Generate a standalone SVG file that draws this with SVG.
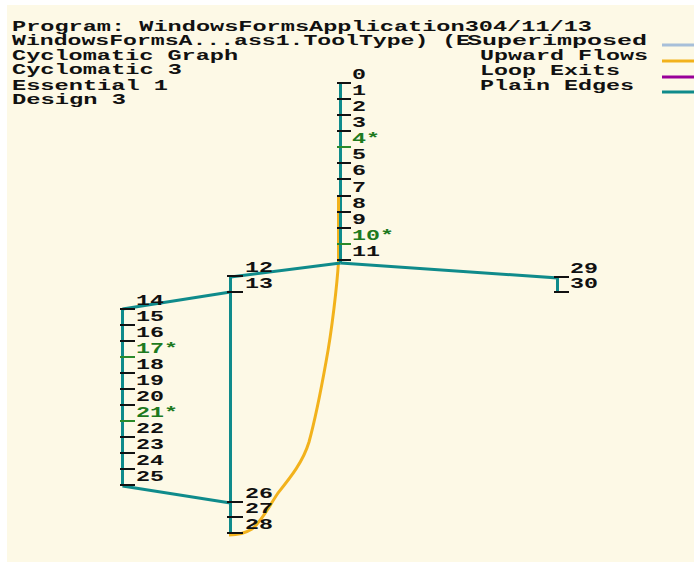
<svg xmlns="http://www.w3.org/2000/svg" width="694" height="562" viewBox="0 0 694 562">
<style>
text{font-family:"Liberation Mono","DejaVu Sans Mono",monospace;font-weight:bold;font-size:14px;fill:#111}
.g{fill:#1e7a1e}
.tk{stroke:#111;stroke-width:2}
.tg{stroke:#2a8a2a;stroke-width:2}
.e{stroke:#0f8b8b;stroke-width:3;fill:none}
.up{stroke:#f2b21c;stroke-width:3;fill:none;stroke-linejoin:round}
</style>
<rect width="694" height="562" fill="#ffffff"/>
<rect x="7" y="5" width="687" height="557" fill="#fdf9e6"/>
<g id="header">
<text x="12" y="31" textLength="580" lengthAdjust="spacingAndGlyphs">Program: WindowsFormsApplication304/11/13</text>
<text x="12" y="45" textLength="458" lengthAdjust="spacingAndGlyphs">WindowsFormsA...ass1.ToolType) (E</text>
<text x="12" y="60" textLength="226" lengthAdjust="spacingAndGlyphs">Cyclomatic Graph</text>
<text x="12" y="74" textLength="170" lengthAdjust="spacingAndGlyphs">Cyclomatic 3</text>
<text x="12" y="90" textLength="156" lengthAdjust="spacingAndGlyphs">Essential 1</text>
<text x="12" y="104" textLength="114" lengthAdjust="spacingAndGlyphs">Design 3</text>
</g>
<g id="legend">
<text x="467" y="45" textLength="180" lengthAdjust="spacingAndGlyphs">Superimposed</text>
<text x="480" y="60" textLength="168" lengthAdjust="spacingAndGlyphs">Upward Flows</text>
<text x="480" y="75" textLength="140" lengthAdjust="spacingAndGlyphs">Loop Exits</text>
<text x="480" y="90" textLength="154" lengthAdjust="spacingAndGlyphs">Plain Edges</text>
<line x1="662" y1="45" x2="694" y2="45" stroke="#a7bfd9" stroke-width="3"/>
<line x1="662" y1="61" x2="694" y2="61" stroke="#f2b21c" stroke-width="3"/>
<line x1="662" y1="77" x2="694" y2="77" stroke="#990099" stroke-width="3"/>
<line x1="662" y1="92" x2="694" y2="92" stroke="#0f8b8b" stroke-width="3"/>
</g>
<g id="connectors">
<path class="e" d="M340.5 84V263"/>
<path class="up" d="M338.5 197V262C337 285 332 330 326 362C321 390 315 420 309 442C303 462 290 478 278 493C268 508 262 521 252 529C244 534 236 535 229 535"/>
<path class="e" d="M340.5 213V263"/>
<path class="e" d="M340.5 263L230.5 277"/>
<path class="e" d="M230.5 277V533"/>
<path class="e" d="M230.5 292L122.5 309"/>
<path class="e" d="M122.5 309V486"/>
<path class="e" d="M122.5 486L230.5 503"/>
<path class="e" d="M340.5 263L557.5 278V292"/>
</g>
<g id="n0"><line class="tk" x1="337" y1="83" x2="351" y2="83"/><text x="352" y="79" textLength="14" lengthAdjust="spacingAndGlyphs">0</text></g>
<g id="n1"><line class="tk" x1="337" y1="99" x2="351" y2="99"/><text x="352" y="95" textLength="14" lengthAdjust="spacingAndGlyphs">1</text></g>
<g id="n2"><line class="tk" x1="337" y1="115" x2="351" y2="115"/><text x="352" y="111" textLength="14" lengthAdjust="spacingAndGlyphs">2</text></g>
<g id="n3"><line class="tk" x1="337" y1="131" x2="351" y2="131"/><text x="352" y="127" textLength="14" lengthAdjust="spacingAndGlyphs">3</text></g>
<g id="n4"><line class="tg" x1="337" y1="147" x2="351" y2="147"/><text class="g" x="352" y="143" textLength="28" lengthAdjust="spacingAndGlyphs">4*</text></g>
<g id="n5"><line class="tk" x1="337" y1="163" x2="351" y2="163"/><text x="352" y="159" textLength="14" lengthAdjust="spacingAndGlyphs">5</text></g>
<g id="n6"><line class="tk" x1="337" y1="179" x2="351" y2="179"/><text x="352" y="175" textLength="14" lengthAdjust="spacingAndGlyphs">6</text></g>
<g id="n7"><line class="tk" x1="337" y1="196" x2="351" y2="196"/><text x="352" y="192" textLength="14" lengthAdjust="spacingAndGlyphs">7</text></g>
<g id="n8"><line class="tk" x1="337" y1="212" x2="351" y2="212"/><text x="352" y="208" textLength="14" lengthAdjust="spacingAndGlyphs">8</text></g>
<g id="n9"><line class="tk" x1="337" y1="228" x2="351" y2="228"/><text x="352" y="224" textLength="14" lengthAdjust="spacingAndGlyphs">9</text></g>
<g id="n10"><line class="tg" x1="337" y1="244" x2="351" y2="244"/><text class="g" x="352" y="240" textLength="42" lengthAdjust="spacingAndGlyphs">10*</text></g>
<g id="n11"><line class="tk" x1="337" y1="260" x2="351" y2="260"/><text x="352" y="256" textLength="28" lengthAdjust="spacingAndGlyphs">11</text></g>
<g id="n12"><line class="tk" x1="227" y1="276" x2="243" y2="276"/><text x="245" y="272" textLength="28" lengthAdjust="spacingAndGlyphs">12</text></g>
<g id="n13"><line class="tk" x1="227" y1="292" x2="243" y2="292"/><text x="245" y="288" textLength="28" lengthAdjust="spacingAndGlyphs">13</text></g>
<g id="n14"><line class="tk" x1="120" y1="309" x2="135" y2="309"/><text x="136" y="305" textLength="28" lengthAdjust="spacingAndGlyphs">14</text></g>
<g id="n15"><line class="tk" x1="120" y1="325" x2="135" y2="325"/><text x="136" y="321" textLength="28" lengthAdjust="spacingAndGlyphs">15</text></g>
<g id="n16"><line class="tk" x1="120" y1="341" x2="135" y2="341"/><text x="136" y="337" textLength="28" lengthAdjust="spacingAndGlyphs">16</text></g>
<g id="n17"><line class="tg" x1="120" y1="357" x2="135" y2="357"/><text class="g" x="136" y="353" textLength="42" lengthAdjust="spacingAndGlyphs">17*</text></g>
<g id="n18"><line class="tk" x1="120" y1="373" x2="135" y2="373"/><text x="136" y="369" textLength="28" lengthAdjust="spacingAndGlyphs">18</text></g>
<g id="n19"><line class="tk" x1="120" y1="389" x2="135" y2="389"/><text x="136" y="385" textLength="28" lengthAdjust="spacingAndGlyphs">19</text></g>
<g id="n20"><line class="tk" x1="120" y1="405" x2="135" y2="405"/><text x="136" y="401" textLength="28" lengthAdjust="spacingAndGlyphs">20</text></g>
<g id="n21"><line class="tg" x1="120" y1="421" x2="135" y2="421"/><text class="g" x="136" y="417" textLength="42" lengthAdjust="spacingAndGlyphs">21*</text></g>
<g id="n22"><line class="tk" x1="120" y1="437" x2="135" y2="437"/><text x="136" y="433" textLength="28" lengthAdjust="spacingAndGlyphs">22</text></g>
<g id="n23"><line class="tk" x1="120" y1="453" x2="135" y2="453"/><text x="136" y="449" textLength="28" lengthAdjust="spacingAndGlyphs">23</text></g>
<g id="n24"><line class="tk" x1="120" y1="469" x2="135" y2="469"/><text x="136" y="465" textLength="28" lengthAdjust="spacingAndGlyphs">24</text></g>
<g id="n25"><line class="tk" x1="120" y1="485" x2="135" y2="485"/><text x="136" y="481" textLength="28" lengthAdjust="spacingAndGlyphs">25</text></g>
<g id="n26"><line class="tk" x1="227" y1="502" x2="243" y2="502"/><text x="245" y="498" textLength="28" lengthAdjust="spacingAndGlyphs">26</text></g>
<g id="n27"><line class="tk" x1="227" y1="517" x2="243" y2="517"/><text x="245" y="513" textLength="28" lengthAdjust="spacingAndGlyphs">27</text></g>
<g id="n28"><line class="tk" x1="227" y1="533" x2="243" y2="533"/><text x="245" y="529" textLength="28" lengthAdjust="spacingAndGlyphs">28</text></g>
<g id="n29"><line class="tk" x1="554" y1="277" x2="569" y2="277"/><text x="570" y="273" textLength="28" lengthAdjust="spacingAndGlyphs">29</text></g>
<g id="n30"><line class="tk" x1="554" y1="292" x2="569" y2="292"/><text x="570" y="288" textLength="28" lengthAdjust="spacingAndGlyphs">30</text></g>
</svg>
